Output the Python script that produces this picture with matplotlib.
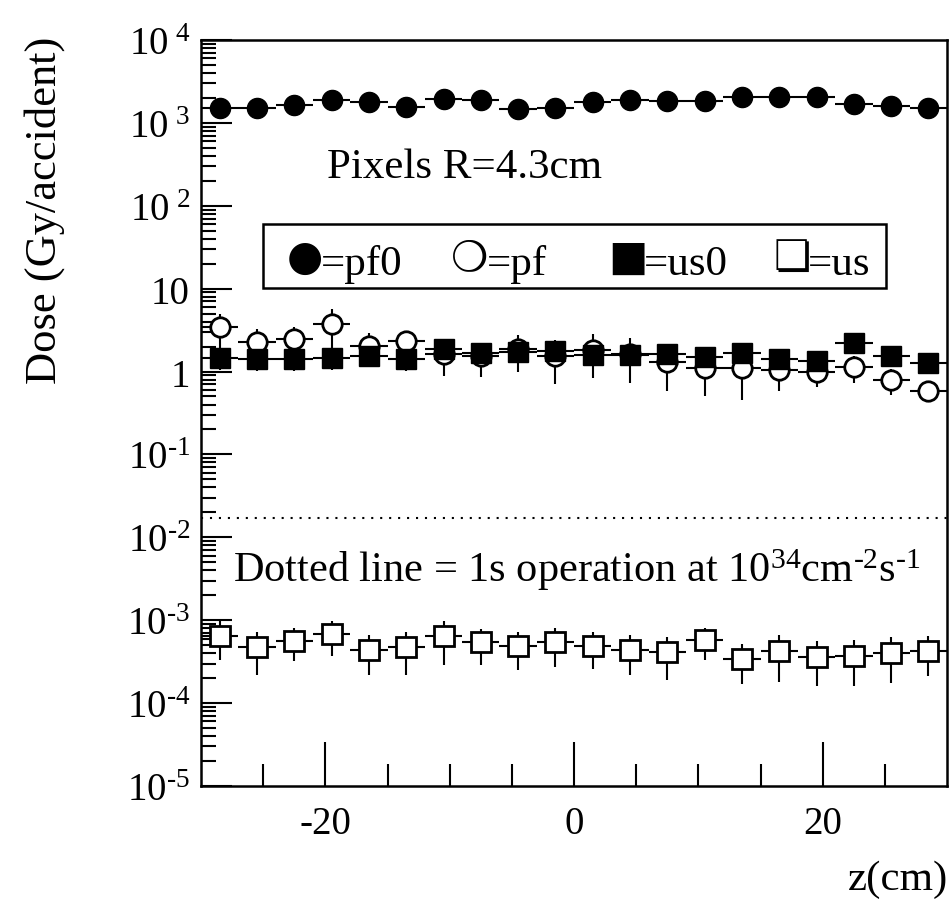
#!/usr/bin/env python3
# Dose per accident vs z for the pixel layer (R=4.3cm)

import numpy as np
import matplotlib
matplotlib.use("Agg")
import matplotlib.pyplot as plt
from matplotlib.patches import Rectangle
from matplotlib.ticker import LogLocator, NullFormatter

plt.rcParams['font.family'] = ['Liberation Serif', 'DejaVu Sans']
plt.rcParams['mathtext.fontset'] = 'custom'
plt.rcParams['mathtext.rm'] = 'Liberation Serif'
plt.rcParams['mathtext.it'] = 'Liberation Serif'
plt.rcParams['axes.unicode_minus'] = False

# bin centres (cm) and half width
z = np.arange(-28.5, 29.0, 3.0)
z_half = 1.5

pf0 = [1500, 1500, 1640, 1890, 1770, 1570, 1940, 1900, 1470, 1500,
       1800, 1890, 1860, 1860, 2070, 2070, 2070, 1690, 1610, 1510]
pf0_err = [60] * 20

pf = [3.42, 2.30, 2.47, 3.75, 2.06, 2.32, 1.63, 1.55, 1.87, 1.55,
      1.84, 1.63, 1.29, 1.10, 1.10, 1.04, 1.00, 1.13, 0.80, 0.59]
pf_err = [1.5, 1.0, 1.0, 1.9, 0.85, 0.8, 0.74, 0.68, 0.88, 0.84,
          1.0, 0.9, 0.7, 0.6, 0.65, 0.45, 0.35, 0.4, 0.28, 0.1]

us0 = [1.44, 1.42, 1.41, 1.44, 1.55, 1.41, 1.88, 1.68, 1.74, 1.79,
       1.59, 1.59, 1.63, 1.51, 1.68, 1.41, 1.35, 2.23, 1.53, 1.28]
us0_err = [0.4] * 6 + [0.25] * 14

us = [6.5e-4, 4.7e-4, 5.6e-4, 6.8e-4, 4.4e-4, 4.7e-4, 6.4e-4, 5.4e-4, 4.9e-4, 5.4e-4,
      4.9e-4, 4.4e-4, 4.1e-4, 5.7e-4, 3.4e-4, 4.2e-4, 3.6e-4, 3.7e-4, 4.0e-4, 4.3e-4]
us_err = [3.2e-4, 2.5e-4, 2.4e-4, 3.1e-4, 2.2e-4, 2.5e-4, 3.5e-4, 2.5e-4, 2.4e-4, 2.7e-4,
          2.3e-4, 2.2e-4, 2.2e-4, 2.4e-4, 1.7e-4, 2.4e-4, 2.0e-4, 2.1e-4, 2.25e-4, 2.2e-4]

one_sec_dose = 0.017

HY = '\u2010'  # plain hyphen, as in the original exponents
ytick_vals = [1e-5, 1e-4, 1e-3, 1e-2, 1e-1, 1, 10, 1e2, 1e3, 1e4]
ytick_labels = ['$10^{%s5}$' % HY, '$10^{%s4}$' % HY, '$10^{%s3}$' % HY,
                '$10^{%s2}$' % HY, '$10^{%s1}$' % HY,
                '1', '10', r'$10^{\ 2}$', r'$10^{\ 3}$', r'$10^{\ 4}$']

legend_syms = ['\u25cf', '\u274d', '\u25a0', '\u274f']
legend_names = ['=pf0', '=pf', '=us0', '=us']

fig = plt.figure(figsize=(9.5, 9.03), dpi=100)
ax = fig.add_axes([0.2116, 0.1285, 0.7854, 0.8261])

ekw = dict(ecolor='black', elinewidth=1.5, capsize=0, linestyle='none')
ax.errorbar(z, pf0, xerr=z_half, yerr=pf0_err, marker='o', ms=14.5,
            mfc='black', mec='black', **ekw)
ax.errorbar(z, pf, xerr=z_half, yerr=pf_err, marker='o', ms=14,
            mfc='white', mec='black', mew=2, **ekw)
ax.errorbar(z, us0, xerr=z_half, yerr=us0_err, marker='s', ms=15,
            mfc='black', mec='black', **ekw)
ax.errorbar(z, us, xerr=z_half, yerr=us_err, marker='s', ms=15,
            mfc='white', mec='black', mew=2, **ekw)

ax.axhline(one_sec_dose, color='black', lw=1.5, ls=(0, (1, 3.3)))

ax.set_yscale('log')
ax.set_xlim(-30, 30)
ax.set_ylim(1e-5, 1e4)

ax.set_yticks(ytick_vals)
ax.set_yticklabels(ytick_labels)
ax.yaxis.set_minor_locator(LogLocator(base=10, subs=np.arange(2, 10), numticks=100))
ax.yaxis.set_minor_formatter(NullFormatter())
ax.set_xticks([-20, 0, 20])
ax.set_xticks(np.arange(-25, 30, 5), minor=True)
ax.tick_params(axis='both', which='both', direction='in', top=False, right=False,
               labelsize=28, width=1.5, colors='black')
ax.tick_params(axis='y', which='major', length=22, pad=8)
ax.tick_params(axis='y', which='minor', length=11)
ax.tick_params(axis='x', which='major', length=32, pad=14)
ax.tick_params(axis='x', which='minor', length=16)
for sp in ax.spines.values():
    sp.set_linewidth(1.8)

ax.text(0.169, 0.816, 'Pixels R=4.3cm', transform=ax.transAxes,
        fontsize=31, va='baseline', ha='left')

# legend box drawn as text, like the original
ax.add_patch(Rectangle((0.083, 0.6676), 0.835, 0.0858, transform=ax.transAxes,
                       fc='white', ec='black', lw=1.8, zorder=5))
sym_x = [0.139, 0.3606, 0.572, 0.792]
name_x = [0.160, 0.383, 0.593, 0.814]
for s, n, xs, xn in zip(legend_syms, legend_names, sym_x, name_x):
    ax.text(xs, 0.709, s, transform=ax.transAxes, fontsize=30,
            family='DejaVu Sans', ha='center', va='center', zorder=6)
    ax.text(xn, 0.686, n, transform=ax.transAxes, fontsize=31,
            ha='left', va='baseline', zorder=6)

ax.text(0.043, 0.275, 'Dotted line = 1s operation at 10$^{34}$cm$^{%s2}$s$^{%s1}$' % (HY, HY),
        transform=ax.transAxes, fontsize=30.5, va='baseline', ha='left')

fig.text(0.047, 1 - 210 / 903, 'Dose (Gy/accident)', rotation=90,
         fontsize=32, va='center', ha='center')
fig.text(0.998, 1 - 880 / 903, 'z(cm)', fontsize=31, va='center', ha='right')

fig.savefig('out.png', dpi=100)
